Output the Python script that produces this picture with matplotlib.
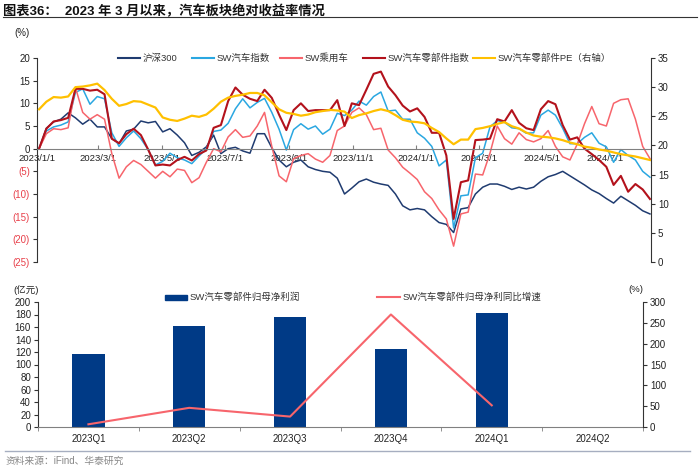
import matplotlib
matplotlib.use("Agg")
import matplotlib.pyplot as plt
from matplotlib.lines import Line2D
from matplotlib.patches import Rectangle
import numpy as np
import pandas as pd

plt.rcParams['font.family'] = ['Liberation Sans', 'Noto Sans CJK SC', 'DejaVu Sans']
plt.rcParams['axes.unicode_minus'] = False

# weekly samples, 2023/1/3 .. 2024/8/13
dates = pd.date_range('2023-01-03', periods=85, freq='7D')

hs300 = [0, 4.5, 5.9, 6.5, 7.9, 6.8, 5.4, 6.5, 4.8, 4.8,
         2.2, 1.1, 3.9, 4.3, 6.1, 5.7, 6.0, 3.7, 4.4, 3.0,
         1.3, -1.5, -0.8, 0.4, 3.0, -1.1, 0.0, 0.3, -0.5, -1.0,
         3.3, 3.3, 0.2, -2.5, -4.0, -3.0, -2.5, -4.0, -4.6, -5.0,
         -5.2, -6.5, -10.0, -8.7, -7.3, -6.7, -7.4, -7.8, -8.1, -10.0,
         -12.6, -13.5, -13.2, -13.5, -15.0, -16.3, -16.7, -18.5, -13.3, -13.0,
         -10.0, -8.5, -7.8, -7.8, -8.3, -9.0, -8.5, -8.9, -8.5, -7.2,
         -6.2, -5.7, -5.0, -6.0, -7.0, -8.0, -9.1, -9.9, -11.0, -12.0,
         -10.5, -11.5, -12.5, -13.7, -14.4]

sw_auto = [0, 3.9, 4.8, 5.2, 5.9, 12.4, 13.2, 9.8, 11.5, 11.0,
           3.5, 0.5, 2.4, 3.9, 2.2, -0.2, -3.6, -2.8, -1.0, -2.0,
           -2.5, -3.3, -1.6, 0.0, 3.8, 4.1, 5.6, 8.8, 11.0, 9.0,
           10.2, 11.1, 8.0, 4.3, -0.3, 4.2, 5.5, 4.3, 5.0, 3.2,
           4.3, 7.8, 7.3, 8.5, 10.5, 9.6, 11.5, 12.5, 8.3, 8.5,
           6.5, 6.5, 3.5, 2.3, 0.5, -3.8, -2.5, -17.5, -10.4, -10.2,
           -2.0, -1.0, 4.8, 6.2, 5.8, 4.6, 4.4, 3.4, 3.5, 7.4,
           8.5, 7.4, 4.5, 1.1, 1.1, 2.5, 3.5, 1.2, 0.4, -3.0,
           -0.2, -1.5, -2.5, -5.0, -6.3]

sw_car = [0, 3.3, 4.4, 4.2, 4.6, 13.5, 8.0, 6.5, 7.5, 6.5,
          -1.1, -6.5, -4.0, -2.6, -3.5, -5.0, -6.5, -5.0, -6.2, -4.5,
          -4.8, -7.5, -6.4, -3.0, 0.0, -0.7, 2.6, 4.2, 2.5, 2.8,
          5.0, 8.0, 0.5, -6.0, -7.3, -2.2, -1.5, -1.1, -2.3, -3.0,
          -1.5, 4.0, 5.0, 8.0, 9.0, 7.5, 4.2, 4.5, -0.3, -2.0,
          -4.1, -5.4, -6.8, -9.5, -11.0, -13.5, -15.5, -21.5, -14.4, -14.0,
          -5.6, -5.8, -1.0, 5.0, 2.2, 1.0, 3.5, 2.0, 1.5, 2.2,
          4.0, 0.5, -1.8, -2.5, 1.0, 5.5, 9.3, 5.5, 5.0, 10.0,
          10.8, 11.0, 6.5, 0.5, -2.2]

sw_parts = [0, 4.4, 6.0, 6.3, 6.8, 13.2, 13.2, 12.8, 13.0, 12.0,
            2.2, 1.2, 3.2, 4.4, 3.0, -0.2, -3.7, -3.5, -3.7, -2.5,
            -1.8, -2.6, -1.2, -0.4, 4.6, 5.2, 10.5, 13.5, 11.9, 11.0,
            10.5, 13.0, 11.2, 7.5, 4.1, 8.5, 10.0, 8.3, 8.5, 8.5,
            8.5, 10.7, 5.0, 10.0, 9.6, 13.0, 16.5, 17.0, 13.7, 11.8,
            9.5, 8.2, 8.9, 7.0, 3.5, 3.5, -1.5, -15.5, -7.4, -7.0,
            1.9, 2.0, 2.2, 6.5, 6.0, 8.5, 5.7, 4.5, 4.1, 8.7,
            10.5, 9.8, 5.2, 2.0, 2.5, 0.0, -1.2, -2.5, -4.0, -8.0,
            -6.0, -9.5, -7.8, -9.0, -11.1]

parts_pe = [26.2, 27.5, 28.3, 28.2, 28.4, 30.0, 30.1, 30.3, 30.6, 29.5,
            28.0, 26.8, 27.1, 27.6, 27.5, 27.0, 26.5, 24.8, 24.4, 24.2,
            24.6, 25.1, 24.9, 25.3, 26.3, 27.5, 28.2, 28.5, 28.7, 29.0,
            29.0, 28.6, 27.4, 26.2, 25.6, 25.4, 25.1, 25.3, 25.7, 25.9,
            26.1, 26.0, 25.8, 24.7, 25.2, 25.5, 25.9, 26.2, 25.9, 25.2,
            24.4, 24.1, 24.0, 23.8, 23.0, 22.3, 21.2, 20.2, 21.0, 21.0,
            22.8, 23.0, 23.3, 23.7, 24.0, 23.3, 22.9, 22.2, 21.7, 21.5,
            21.4, 21.2, 20.9, 20.5, 20.2, 19.8, 19.6, 19.3, 19.1, 18.8,
            18.5, 18.3, 18.1, 17.8, 17.5]

quarters = ['2023Q1', '2023Q2', '2023Q3', '2023Q4', '2024Q1', '2024Q2']
profit = [116.5, 162, 175.5, 125.5, 183, np.nan]
profit_yoy = [6.5, 46, 25, 270, 52, np.nan]

tick_dates = ['2023-01-01', '2023-03-01', '2023-05-01', '2023-07-01', '2023-09-01',
              '2023-11-01', '2024-01-01', '2024-03-01', '2024-05-01', '2024-07-01']
tick_labels = ['2023/1/1', '2023/3/1', '2023/5/1', '2023/7/1', '2023/9/1',
               '2023/11/1', '2024/1/1', '2024/3/1', '2024/5/1', '2024/7/1']

c_navy = '#1F3B70'
c_blue = '#2AA7E1'
c_pink = '#F7656C'
c_dred = '#B3121C'
c_gold = '#FFC000'
c_neg = '#E8404A'
c_bar = '#003A86'
fs = 7

fig = plt.figure(figsize=(7, 4.69), dpi=100)

# title and rules
fig.text(0.004, 1 - 12 / 469, '图表36：  2023 年 3 月以来，汽车板块绝对收益率情况',
         fontsize=9.5, fontweight='bold', va='center', ha='left', color='#111111')
fig.add_artist(Line2D([0.004, 0.996], [1 - 17 / 469] * 2, color='#333333', lw=0.8))
fig.add_artist(Line2D([0.007, 0.986], [1 - 451 / 469] * 2, color='#A6AEC0', lw=1.0))
fig.text(0.008, 1 - 461 / 469, '资料来源：iFind、华泰研究', fontsize=7, color='#888888',
         va='center', ha='left')

# ---------------- top chart ----------------
ax = fig.add_axes([37 / 700, 1 - 262 / 469, (651 - 37) / 700, 204 / 469])
ax.plot(dates, hs300, color=c_navy, lw=1.1)
ax.plot(dates, sw_auto, color=c_blue, lw=1.1)
ax.plot(dates, sw_car, color=c_pink, lw=1.1)
ax.plot(dates, sw_parts, color=c_dred, lw=1.5)
ax.set_ylim(-25, 20)
ax.set_xlim(pd.Timestamp('2023-01-01'), pd.Timestamp('2024-08-14'))
ax.set_yticks(range(-25, 21, 5))
ylabels = [f'({-v})' if v < 0 else str(v) for v in range(-25, 21, 5)]
ax.set_yticklabels(ylabels)
ax.spines['bottom'].set_position(('data', 0))
ax.spines['bottom'].set_color('#808080')
ax.spines['bottom'].set_linewidth(0.8)
ax.spines['top'].set_visible(False)
ax.spines['right'].set_visible(False)
ax.spines['left'].set_color('#333333')
ax.spines['left'].set_linewidth(0.8)

ax2 = ax.twinx()
ax2.plot(dates, parts_pe, color=c_gold, lw=1.6)
ax2.set_ylim(0, 35)
ax2.set_yticks(range(0, 36, 5))
ax2.tick_params(axis='y', labelsize=fs, length=3, color='#333333', pad=2, labelcolor='#222222')
ax2.tick_params(axis='x', bottom=False, labelbottom=False)
for s in ['top', 'left', 'bottom']:
    ax2.spines[s].set_visible(False)
ax2.spines['right'].set_color('#333333')
ax2.spines['right'].set_linewidth(0.8)

# x ticks set after the twin so that nothing resets them
ax.set_xticks(pd.to_datetime(tick_dates), tick_labels)
ax.tick_params(axis='x', labelsize=6.8, length=3, direction='in', color='#808080',
               pad=3.5, labelcolor='#222222')
ax.tick_params(axis='y', labelsize=fs, length=3, direction='out', color='#333333', pad=2)
for t, v in zip(ax.get_yticklabels(), range(-25, 21, 5)):
    t.set_color(c_neg if v < 0 else '#222222')

fig.text(22 / 700, 1 - 33 / 469, '(%)', fontsize=fs, ha='center', va='center', color='#222222')

# top legend, single row
legend_items = [(118, '沪深300', c_navy), (192, 'SW汽车指数', c_blue), (280, 'SW乘用车', c_pink),
                (363, 'SW汽车零部件指数', c_dred), (473, 'SW汽车零部件PE（右轴）', c_gold)]
ly = 1 - 58.5 / 469
for x0, lab, col in legend_items:
    fig.add_artist(Line2D([x0 / 700, (x0 + 22) / 700], [ly, ly], color=col, lw=1.5))
    fig.text((x0 + 25) / 700, ly, lab, fontsize=6.8, va='center', ha='left', color='#333333')

# ---------------- bottom chart ----------------
bx = fig.add_axes([38 / 700, 1 - 427 / 469, (643 - 38) / 700, 125 / 469])
xpos = np.arange(len(quarters))
bx.bar(xpos, profit, width=0.32, color=c_bar)
bx.set_xlim(-0.5, len(quarters) - 0.5)
bx.set_ylim(0, 200)
bx.set_yticks(range(0, 201, 20))
bx.spines['top'].set_visible(False)
bx.spines['right'].set_visible(False)
bx.spines['bottom'].set_color('#808080')
bx.spines['left'].set_color('#333333')
bx.spines['left'].set_linewidth(0.8)

bx2 = bx.twinx()
bx2.plot(xpos, profit_yoy, color=c_pink, lw=1.5)
bx2.set_ylim(0, 300)
bx2.set_yticks(range(0, 301, 50))
bx2.tick_params(axis='y', labelsize=fs, length=3, color='#333333', pad=2, labelcolor='#222222')
bx2.tick_params(axis='x', bottom=False, labelbottom=False)
for s in ['top', 'left', 'bottom']:
    bx2.spines[s].set_visible(False)
bx2.spines['right'].set_color('#333333')
bx2.spines['right'].set_linewidth(0.8)

bx.set_xticks(xpos, quarters)
bx.set_xticks(np.arange(-0.5, len(quarters), 1), minor=True)
bx.tick_params(axis='x', which='major', length=0, pad=5, labelsize=fs, labelcolor='#222222')
bx.tick_params(axis='x', which='minor', length=3, color='#808080')
bx.tick_params(axis='y', labelsize=fs, length=3, color='#333333', pad=2, labelcolor='#222222')

fig.text(26 / 700, 1 - 290 / 469, '(亿元)', fontsize=6.8, ha='center', va='center', color='#222222')
fig.text(636 / 700, 1 - 289 / 469, '(%)', fontsize=6.8, ha='center', va='center', color='#222222')

by = 1 - 297 / 469
fig.add_artist(Rectangle((165 / 700, by - 2.5 / 469), 22 / 700, 5 / 469,
                         color=c_bar, transform=fig.transFigure))
fig.text(190 / 700, by, 'SW汽车零部件归母净利润', fontsize=6.8, va='center', ha='left', color='#333333')
fig.add_artist(Line2D([377 / 700, 400 / 700], [by, by], color=c_pink, lw=1.5))
fig.text(403 / 700, by, 'SW汽车零部件归母净利同比增速', fontsize=6.8, va='center', ha='left',
         color='#333333')

fig.savefig('out.png', dpi=100)
